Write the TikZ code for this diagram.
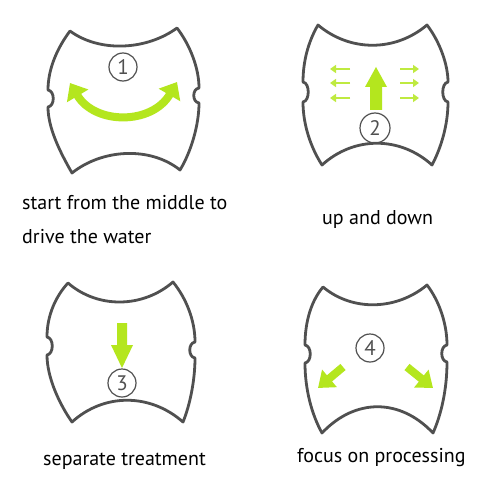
\documentclass[tikz,border=0pt]{standalone}
\usepackage{fontspec}
\setmainfont{PT Sans}
\usetikzlibrary{arrows.meta}
\definecolor{outl}{HTML}{505050}
\definecolor{lime}{HTML}{B4E61E}
\begin{document}
\begin{tikzpicture}[x=1pt,y=-1pt,
 pad/.style={draw=outl,line width=2.8pt,line join=round,fill=white},
 num/.style={circle,draw=outl,line width=1.2pt,minimum size=28pt,inner sep=0pt,font=\fontsize{21}{21}\selectfont,text=outl},
 lbl/.style={anchor=base west,inner sep=0pt,font=\fontsize{20}{24}\selectfont,text=black},
 bigarrow/.style={draw=lime,line width=8pt,-{Triangle[length=15pt,width=22pt]}},
 smallarrow/.style={draw=lime!85,line width=2.6pt,-{Triangle[length=6pt,width=8pt]}}]
\useasboundingbox[fill=white] (0,0) rectangle (484,500);

% shape 1
\draw[pad] (70,31) .. controls (100,53) and (147,50) .. (177,28)
 .. controls (190,45) and (199,68) .. (199,88)
 .. controls (192,89) and (192,102) .. (199,103)
 .. controls (199,125) and (191,152) .. (180,170)
 .. controls (150,146) and (102,149) .. (72,173)
 .. controls (60,152) and (48,128) .. (48,107)
 .. controls (55,106) and (55,91) .. (48,90)
 .. controls (48,68) and (58,47) .. (70,31) -- cycle;
% shape 2
\draw[pad] (318,25) .. controls (350,52) and (395,52) .. (427,25)
 .. controls (440,42) and (448,65) .. (448,82)
 .. controls (441,83) and (441,101) .. (448,102)
 .. controls (448,125) and (441,148) .. (432,165)
 .. controls (400,136) and (354,136) .. (322,165)
 .. controls (311,148) and (303,125) .. (303,102)
 .. controls (310,101) and (310,83) .. (303,82)
 .. controls (303,62) and (308,42) .. (318,25) -- cycle;
% shape 3
\draw[pad] (68,283) .. controls (98,309) and (143,308) .. (173,282)
 .. controls (186,298) and (195,320) .. (195,342)
 .. controls (188,343) and (188,357) .. (195,358)
 .. controls (195,380) and (190,405) .. (183,422)
 .. controls (150,393) and (104,393) .. (72,422)
 .. controls (60,405) and (47,378) .. (47,355)
 .. controls (54,354) and (54,338) .. (47,337)
 .. controls (47,315) and (56,296) .. (68,283) -- cycle;
% shape 4
\draw[pad] (323,287) .. controls (353,312) and (397,310) .. (427,285)
 .. controls (440,302) and (447,325) .. (447,345)
 .. controls (440,346) and (440,361) .. (447,362)
 .. controls (447,390) and (441,415) .. (433,433)
 .. controls (400,398) and (355,398) .. (322,433)
 .. controls (312,415) and (305,390) .. (305,363)
 .. controls (312,362) and (312,346) .. (305,345)
 .. controls (305,320) and (312,300) .. (323,287) -- cycle;

% number circles
\node[num] (c1) at (123,67) {1};
\node[num,minimum size=30pt] (c2) at (375,128) {2};
\node[num] (c3) at (122,383) {3};
\node[num] (c4) at (370,348) {4};

% green arrows
\draw[draw=lime,line width=8pt,{Triangle[length=15pt,width=24pt]}-{Triangle[length=15pt,width=24pt]}]
  (70,83) .. controls (95,125) and (152,125) .. (177,82);
\fill[lime] (370,110) -- (370,87) -- (365,87) -- (376,67) -- (387,87) -- (382,87) -- (382,110) -- cycle;
\foreach \yy in {69,83,98} {
  \draw[smallarrow] (350,\yy) -- (330,\yy);
  \draw[smallarrow] (400,\yy) -- (419,\yy);
}
\fill[lime] (117,323) -- (127,323) -- (127,345) -- (133,345) -- (122,368) -- (111,345) -- (117,345) -- cycle;
\draw[bigarrow] (343,367) -- (318,388);
\draw[bigarrow] (407,367) -- (433,388);

% labels
\node[lbl] (t1) at (22,209) {start from the middle to};
\node[lbl] (t1b) at (22,243) {drive the water};
\node[lbl] (t2) at (322,224) {up and down};
\node[lbl] (t3) at (43,465) {separate treatment};
\node[lbl] (t4) at (297,462) {focus on processing};
\end{tikzpicture}
\end{document}
